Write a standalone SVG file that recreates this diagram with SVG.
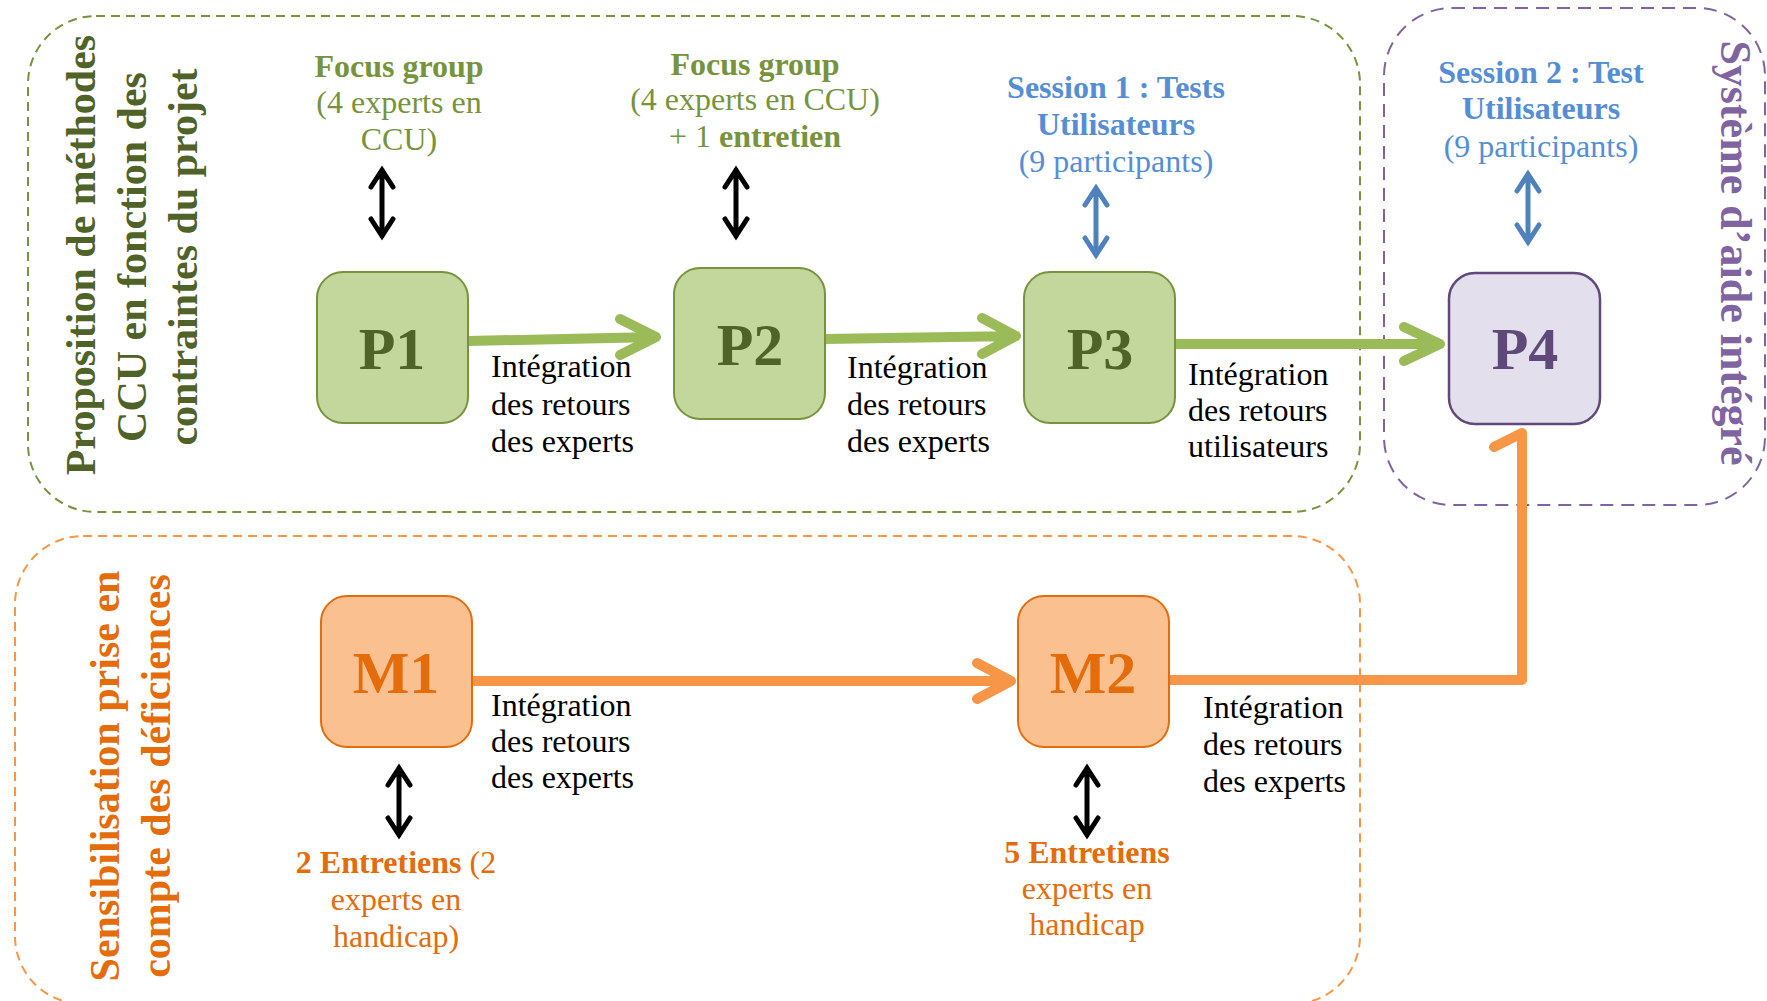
<svg xmlns="http://www.w3.org/2000/svg" width="1767" height="1001" viewBox="0 0 1767 1001">
<style>
text { font-family: "Liberation Serif", "Times New Roman", serif; }
.b { font-weight: bold; }
.zone { fill: none; stroke-width: 2; }
.lbl { font-size: 32px; }
.node-label { font-size: 60px; font-weight: bold; text-anchor: middle; }
.side { font-size: 42px; font-weight: bold; text-anchor: middle; }
.mid { text-anchor: middle; }
.blk { fill: #000000; }
.gline { fill: none; stroke: #9BBB59; stroke-width: 10; stroke-linecap: round; stroke-linejoin: round; }
.oline { fill: none; stroke: #F79646; stroke-width: 10; stroke-linecap: round; stroke-linejoin: round; }
.dbl { fill: none; stroke: #000000; stroke-width: 5; stroke-linecap: round; stroke-linejoin: miter; }
.dblb { fill: none; stroke: #4F81BD; stroke-width: 5; stroke-linecap: round; stroke-linejoin: miter; }
.pbox { fill: #C3D69B; stroke: #77933C; stroke-width: 2; }
.mbox { fill: #FAC090; stroke: #E46C0A; stroke-width: 2; }
.vbox { fill: #E4DFEC; stroke: #5F497A; stroke-width: 2.5; }
</style>

<g id="zones">
  <rect id="zone-ccu" class="zone" x="28" y="16" width="1332" height="496" rx="68" ry="68" stroke="#77933C" stroke-dasharray="9 6"/>
  <rect id="zone-systeme" class="zone" x="1384" y="8" width="381" height="497" rx="68" ry="68" stroke="#8064A2" stroke-dasharray="13 8"/>
  <rect id="zone-sensib" class="zone" x="15" y="536" width="1345" height="468" rx="68" ry="68" stroke="#F79646" stroke-dasharray="9 6"/>
</g>

<g id="side-titles">
  <text class="side" fill="#4F6228" transform="translate(95,255) rotate(-90)">Proposition de méthodes</text>
  <text class="side" fill="#4F6228" transform="translate(146,257) rotate(-90)">CCU en fonction des</text>
  <text class="side" fill="#4F6228" transform="translate(197,257) rotate(-90)">contraintes du projet</text>
  <text class="side" fill="#E46C0A" transform="translate(119,776) rotate(-90)">Sensibilisation prise en</text>
  <text class="side" fill="#E46C0A" transform="translate(170,776) rotate(-90)">compte des déficiences</text>
  <text class="side" fill="#8064A2" style="font-size:44px" transform="translate(1721,253) rotate(90)">Système d’aide intégré</text>
</g>

<g id="connectors">
  <path class="gline" d="M468,341 L656,337 M620,319 L656,337 L620,355"/>
  <path class="gline" d="M825,339 L1016,336 M982,318 L1016,336 L982,354"/>
  <path class="gline" d="M1175,344 L1440,344 M1404,327 L1440,344 L1404,361"/>
  <path class="oline" d="M472,681 L1011,681 M977,663 L1011,681 L977,699"/>
  <path class="oline" d="M1169,680 L1522,680 L1522,433 L1494,447"/>
  <path class="dbl" d="M382,170 L382,236 M371,187 L382,170 L393,187 M371,219 L382,236 L393,219"/>
  <path class="dbl" d="M736,170 L736,236 M725,187 L736,170 L747,187 M725,219 L736,236 L747,219"/>
  <path class="dblb" d="M1096,188 L1096,255 M1085,205 L1096,188 L1107,205 M1085,238 L1096,255 L1107,238"/>
  <path class="dblb" d="M1528,174 L1528,242 M1517,191 L1528,174 L1539,191 M1517,225 L1528,242 L1539,225"/>
  <path class="dbl" d="M399,768 L399,835 M388,785 L399,768 L410,785 M388,818 L399,835 L410,818"/>
  <path class="dbl" d="M1087,768 L1087,835 M1076,785 L1087,768 L1098,785 M1076,818 L1087,835 L1098,818"/>
</g>

<g id="P1">
  <rect class="pbox" x="317" y="272" width="151" height="151" rx="26" ry="26"/>
  <text class="node-label" x="392" y="369" fill="#4F6228">P1</text>
</g>
<g id="P2">
  <rect class="pbox" x="674" y="268" width="151" height="151" rx="26" ry="26"/>
  <text class="node-label" x="750" y="365" fill="#4F6228">P2</text>
</g>
<g id="P3">
  <rect class="pbox" x="1024" y="272" width="151" height="151" rx="26" ry="26"/>
  <text class="node-label" x="1100" y="369" fill="#4F6228">P3</text>
</g>
<g id="P4">
  <rect class="vbox" x="1449" y="273" width="151" height="151" rx="26" ry="26"/>
  <text class="node-label" x="1525" y="369" fill="#5F497A">P4</text>
</g>
<g id="M1">
  <rect class="mbox" x="321" y="596" width="151" height="151" rx="26" ry="26"/>
  <text class="node-label" x="396" y="693" fill="#E46C0A">M1</text>
</g>
<g id="M2">
  <rect class="mbox" x="1018" y="596" width="151" height="151" rx="26" ry="26"/>
  <text class="node-label" x="1093" y="693" fill="#E46C0A">M2</text>
</g>

<g id="labels">
  <text class="lbl mid" fill="#77933C"><tspan class="b" x="399" y="77">Focus group</tspan><tspan x="399" y="113">(4 experts en</tspan><tspan x="399" y="150">CCU)</tspan></text>
  <text class="lbl mid" fill="#77933C"><tspan class="b" x="755" y="75">Focus group</tspan><tspan x="755" y="110">(4 experts en CCU)</tspan><tspan x="755" y="147">+ 1 <tspan class="b">entretien</tspan></tspan></text>
  <text class="lbl mid" fill="#558ED5"><tspan class="b" x="1116" y="98">Session 1 : Tests</tspan><tspan class="b" x="1116" y="135">Utilisateurs</tspan><tspan x="1116" y="172">(9 participants)</tspan></text>
  <text class="lbl mid" fill="#558ED5"><tspan class="b" x="1541" y="83">Session 2 : Test</tspan><tspan class="b" x="1541" y="119">Utilisateurs</tspan><tspan x="1541" y="157">(9 participants)</tspan></text>

  <text class="lbl blk"><tspan x="491" y="377">Intégration</tspan><tspan x="491" y="415">des retours</tspan><tspan x="491" y="452">des experts</tspan></text>
  <text class="lbl blk"><tspan x="847" y="378">Intégration</tspan><tspan x="847" y="415">des retours</tspan><tspan x="847" y="452">des experts</tspan></text>
  <text class="lbl blk"><tspan x="1188" y="385">Intégration</tspan><tspan x="1188" y="421">des retours</tspan><tspan x="1188" y="457">utilisateurs</tspan></text>
  <text class="lbl blk"><tspan x="491" y="716">Intégration</tspan><tspan x="491" y="752">des retours</tspan><tspan x="491" y="788">des experts</tspan></text>
  <text class="lbl blk"><tspan x="1203" y="718">Intégration</tspan><tspan x="1203" y="755">des retours</tspan><tspan x="1203" y="792">des experts</tspan></text>

  <text class="lbl mid" fill="#E46C0A"><tspan x="396" y="873"><tspan class="b">2 Entretiens</tspan> (2</tspan><tspan x="396" y="910">experts en</tspan><tspan x="396" y="947">handicap)</tspan></text>
  <text class="lbl mid" fill="#E46C0A"><tspan class="b" x="1087" y="863">5 Entretiens</tspan><tspan x="1087" y="899">experts en</tspan><tspan x="1087" y="935">handicap</tspan></text>
</g>
</svg>
